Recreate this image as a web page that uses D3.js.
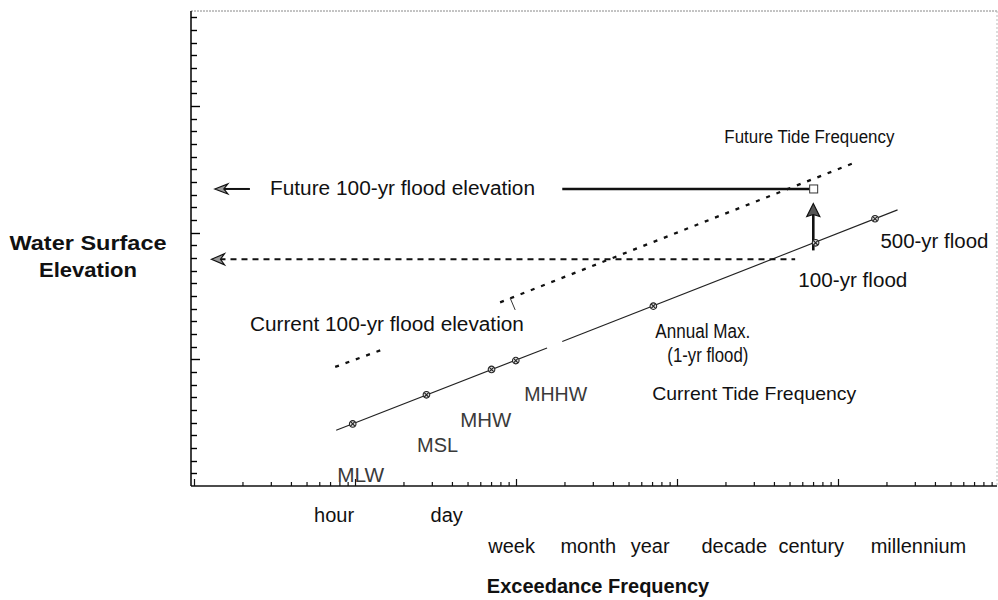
<!DOCTYPE html>
<html>
<head>
<meta charset="utf-8">
<script src="https://cdn.jsdelivr.net/npm/d3@7"></script>
<style>
  html, body { margin: 0; padding: 0; background: #fff; }
  svg { display: block; font-family: "Liberation Sans", Arial, sans-serif; }
</style>
</head>
<body>
<div id="chart"></div>
<script>
// levels on the current tide frequency curve (hours between exceedances, elevation units)
const levelNames = ["MLW", "MSL", "MHW", "MHHW", "Annual Max.", "100-yr flood", "500-yr flood"];
const levelHours = [1.7, 14, 90, 180, 9200, 950000, 5.2e6];
const levelElev  = [4.9, 7.2, 9.2, 9.9, 14.2, 19.2, 21.1];

// current tide frequency line, drawn with a break near "month"
const currentTide = [[[1.06, 4.4], [440, 10.9]], [[680, 11.4], [9.9e6, 21.8]]];
// future tide frequency line (dashed)
const futureTide = [[[1.03, 9.4], [4.1, 10.8]], [[115, 14.5], [3.1e6, 25.6]]];
const leader = [[153, 14.85], [177, 13.9]];

// flood elevations
const current100 = {from: 0.03, to: 530000, elev: 17.9};
const future100 = {from: 680, to: 900000, elev: 23.45};
const futureArrow = {from: 0.09, to: 0.033, elev: 23.45};
const raiseArrow = {hours: 890000, from: 18.6, to: 22.3};

// period names under the frequency axis
const periodLabels = ["hour", "day", "week", "month", "year", "decade", "century", "millennium"];
const periodHours  = [1, 25, 160, 1430, 8400, 93000, 840000, 1.8e7];
const periodRow    = [0, 0, 1, 1, 1, 1, 1, 1];

// elevation ticks (unlabelled)
const elevTicks = d3.range(1, 38);

// text notes inside the plot: [text, hours, elevation, width, size]
const notes = [
  ["Future 100-yr flood elevation", 0.16, 23.0, 265, 20],
  ["Current 100-yr flood elevation", 0.09, 12.2, 274, 20],
  ["Future Tide Frequency", 70000, 27.1, 170, 18],
  ["500-yr flood", 6.07e6, 18.8, 108, 20],
  ["100-yr flood", 581000, 15.7, 109, 20],
  ["Annual Max.", 9720, 11.7, 95, 20],
  ["(1-yr flood)", 13700, 9.8, 81, 20],
  ["Current Tide Frequency", 8920, 6.8, 204, 19]
];
const levelNotes = [
  ["MLW", 1.09, 0.32, 47],
  ["MSL", 10.7, 2.68, 41],
  ["MHW", 36.7, 4.66, 51],
  ["MHHW", 229, 6.71, 63]
];

const width = 998, height = 600;
const margin = {top: 11, right: 1, bottom: 114, left: 191};
const bottom = height - margin.bottom;

const x = d3.scaleLog().domain([0.0167, 1.7e8]).range([margin.left, width - margin.right]);
const y = d3.scaleLinear().domain([0, 37.5]).range([bottom, margin.top]);
// the printed axis ticks run on their own log grid
const xGrid = d3.scaleLog().domain([1, 1e5]).range([margin.left + 3, width + 1]);

const svg = d3.select("#chart").append("svg")
    .attr("width", width)
    .attr("height", height);

// frame
svg.append("line")
    .attr("x1", margin.left).attr("x2", width - margin.right)
    .attr("y1", margin.top).attr("y2", margin.top)
    .attr("stroke", "#888").attr("stroke-dasharray", "2,1");
svg.append("line")
    .attr("x1", width - margin.right).attr("x2", width - margin.right)
    .attr("y1", margin.top).attr("y2", bottom)
    .attr("stroke", "#bbb").attr("stroke-dasharray", "2,2");

svg.append("line")
    .attr("x1", margin.left).attr("x2", margin.left)
    .attr("y1", margin.top).attr("y2", bottom)
    .attr("stroke", "#111").attr("stroke-width", 1.6);
svg.append("line")
    .attr("x1", margin.left).attr("x2", width - margin.right)
    .attr("y1", bottom).attr("y2", bottom)
    .attr("stroke", "#111").attr("stroke-width", 1.3);

const xAxis = d3.axisBottom(xGrid)
    .tickValues(xGrid.ticks().filter(v => xGrid(v) <= width - margin.right))
    .tickSize(-4)
    .tickSizeOuter(0)
    .tickFormat("");
svg.append("g")
    .attr("transform", `translate(0,${bottom})`)
    .call(xAxis)
    .call(g => g.select(".domain").remove())
    .call(g => g.selectAll(".tick line")
        .attr("stroke", "#111")
        .attr("stroke-width", 1.2)
        .attr("y2", d => Math.abs(Math.log10(d) % 1) < 1e-9 ? -7 : -4));

// inward ticks on the elevation axis
svg.append("g").selectAll("line")
    .data(elevTicks)
    .join("line")
    .attr("x1", margin.left)
    .attr("x2", d => margin.left + (d % 10 === 0 ? 9 : 6))
    .attr("y1", d => Math.round(y(d)) + 0.5)
    .attr("y2", d => Math.round(y(d)) + 0.5)
    .attr("stroke", "#000")
    .attr("stroke-width", 1.4);

const line = d3.line().x(d => x(d[0])).y(d => y(d[1]));

// current tide frequency
svg.append("g").selectAll("path")
    .data(currentTide)
    .join("path")
    .attr("d", line)
    .attr("fill", "none")
    .attr("stroke", "#222")
    .attr("stroke-width", 1.1);

// future tide frequency
svg.append("g").selectAll("path")
    .data(futureTide)
    .join("path")
    .attr("d", line)
    .attr("fill", "none")
    .attr("stroke", "#111")
    .attr("stroke-width", 2.3)
    .attr("stroke-dasharray", "4,7");

svg.append("path")
    .attr("d", line(leader))
    .attr("stroke", "#333")
    .attr("stroke-width", 1);

// current 100-yr flood elevation
svg.append("line")
    .attr("x1", x(current100.from) + 8).attr("x2", x(current100.to))
    .attr("y1", y(current100.elev)).attr("y2", y(current100.elev))
    .attr("stroke", "#111")
    .attr("stroke-width", 2.2)
    .attr("stroke-dasharray", "6,5");

// future 100-yr flood elevation
svg.append("line")
    .attr("x1", x(future100.from)).attr("x2", x(future100.to) - 4)
    .attr("y1", y(future100.elev)).attr("y2", y(future100.elev))
    .attr("stroke", "#111")
    .attr("stroke-width", 2.6);
svg.append("rect")
    .attr("x", x(future100.to) - 4)
    .attr("y", y(future100.elev) - 4)
    .attr("width", 8).attr("height", 8)
    .attr("fill", "#fff")
    .attr("stroke", "#333")
    .attr("stroke-width", 1);

svg.append("line")
    .attr("x1", x(futureArrow.to) + 8).attr("x2", x(futureArrow.from))
    .attr("y1", y(futureArrow.elev)).attr("y2", y(futureArrow.elev))
    .attr("stroke", "#111")
    .attr("stroke-width", 2);

svg.append("line")
    .attr("x1", x(raiseArrow.hours)).attr("x2", x(raiseArrow.hours))
    .attr("y1", y(raiseArrow.from)).attr("y2", y(raiseArrow.to) + 10)
    .attr("stroke", "#111")
    .attr("stroke-width", 2.6);

// arrow heads, tip at origin, body toward +x before rotation
const heads = [
  {tx: x(current100.from), ty: y(current100.elev), angle: 0, path: "M0,0L13,-5.5L9,0L13,5.5Z", fill: "#999"},
  {tx: x(futureArrow.to), ty: y(futureArrow.elev), angle: 0, path: "M0,0L13,-5L9,0L13,5Z", fill: "#999"},
  {tx: x(raiseArrow.hours), ty: y(raiseArrow.to), angle: 90, path: "M0,0L13,-6.5L11,0L13,6.5Z", fill: "#555"}
];
svg.append("g").selectAll("path")
    .data(heads)
    .join("path")
    .attr("transform", d => `translate(${d.tx},${d.ty}) rotate(${d.angle})`)
    .attr("d", d => d.path)
    .attr("fill", d => d.fill)
    .attr("stroke", "#111")
    .attr("stroke-width", 1.2)
    .attr("stroke-linejoin", "miter");

// level markers
const marker = svg.append("g").selectAll("g")
    .data(levelNames)
    .join("g")
    .attr("transform", (d, i) => `translate(${x(levelHours[i])},${y(levelElev[i])})`);
marker.append("circle")
    .attr("r", 3.3)
    .attr("fill", "#ddd")
    .attr("stroke", "#222")
    .attr("stroke-width", 1.1);
marker.append("path")
    .attr("d", "M-2.2,-2.2L2.2,2.2M-2.2,2.2L2.2,-2.2")
    .attr("stroke", "#222")
    .attr("stroke-width", 1.1);

// notes
svg.append("g").selectAll("text")
    .data(notes)
    .join("text")
    .attr("x", d => x(d[1]))
    .attr("y", d => y(d[2]))
    .attr("font-size", d => d[4])
    .attr("textLength", d => d[3])
    .attr("lengthAdjust", "spacingAndGlyphs")
    .attr("fill", "#111")
    .text(d => d[0]);

svg.append("g").selectAll("text")
    .data(levelNotes)
    .join("text")
    .attr("x", d => x(d[1]))
    .attr("y", d => y(d[2]))
    .attr("font-size", 20)
    .attr("textLength", d => d[3])
    .attr("lengthAdjust", "spacingAndGlyphs")
    .attr("fill", "#3a3a3a")
    .text(d => d[0]);

// period names, staggered in two rows
svg.append("g").selectAll("text")
    .data(periodLabels)
    .join("text")
    .attr("x", (d, i) => x(periodHours[i]))
    .attr("y", (d, i) => bottom + (periodRow[i] ? 67 : 36))
    .attr("text-anchor", "middle")
    .attr("font-size", 20)
    .attr("fill", "#111")
    .text(d => d);

// axis titles
svg.append("text")
    .attr("x", 598)
    .attr("y", bottom + 107)
    .attr("text-anchor", "middle")
    .attr("font-size", 20)
    .attr("font-weight", "bold")
    .attr("fill", "#111")
    .text("Exceedance Frequency");

svg.append("g").selectAll("text")
    .data([["Water Surface", 157], ["Elevation", 98]])
    .join("text")
    .attr("x", 88)
    .attr("y", (d, i) => 250 + i * 27)
    .attr("text-anchor", "middle")
    .attr("font-size", 21)
    .attr("font-weight", "bold")
    .attr("textLength", d => d[1])
    .attr("lengthAdjust", "spacingAndGlyphs")
    .attr("fill", "#111")
    .text(d => d[0]);
</script>
</body>
</html>
